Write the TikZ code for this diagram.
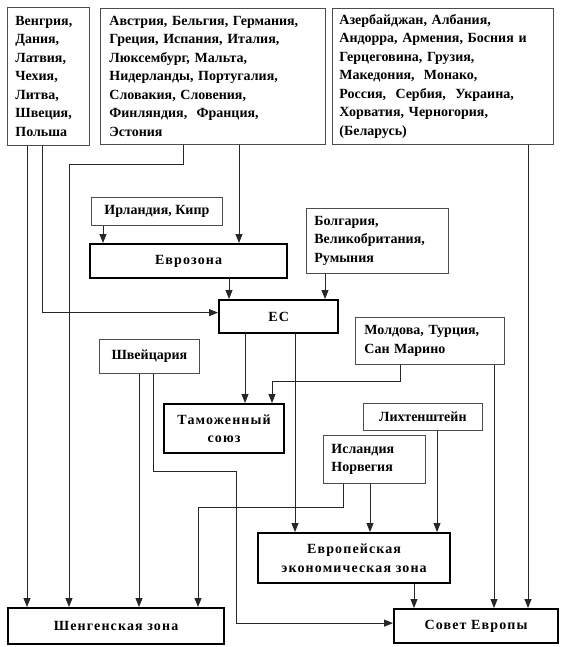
\documentclass[tikz,border=0pt]{standalone}
\usepackage{fontspec}
\setmainfont{Liberation Serif}
\newfontfamily\widefont{Liberation Serif}[LetterSpace=8]
\usetikzlibrary{arrows.meta,calc}
\newcommand\diagfont{\fontsize{14}{18.5}\selectfont\bfseries}
\newcommand\widediagfont{\widefont\fontsize{14}{18.5}\selectfont\bfseries}
\begin{document}
\begin{tikzpicture}[x=1pt,y=-1pt,
  box/.style={draw=black!70, line width=0.8pt, inner xsep=0pt, inner ysep=0pt, anchor=north west, font=\diagfont, align=center},
  thick box/.style={box, draw=black, line width=2.2pt, font=\widediagfont},
  lbox/.style={box, align=left},
  arr/.style={line width=0.8pt, draw=black!85, -{Triangle[length=9pt,width=7pt]}},
]
\useasboundingbox (0,0) rectangle (570,647);
\fill[white] (0,0) rectangle (570,647);

\node[lbox, minimum width=82, minimum height=138, text width=66] (A) at (7,7)
  {Венгрия,\\Дания,\\Латвия,\\Чехия,\\Литва,\\Швеция,\\Польша};
\node[lbox, minimum width=225, minimum height=136, text width=207] (B) at (100,8)
  {Австрия, Бельгия, Германия,\\Греция, Испания, Италия,\\Люксембург, Мальта,\\Нидерланды, Португалия,\\Словакия, Словения,\\Финляндия,\ \ Франция,\\Эстония};
\node[lbox, minimum width=221, minimum height=136, text width=207] (C) at (332,8)
  {Азербайджан, Албания,\\Андорра, Армения, Босния и\\Герцеговина, Грузия,\\Македония,\ \ Монако,\\Россия,\ \ Сербия,\ \ Украина,\\Хорватия, Черногория,\\(Беларусь)};
\node[box, minimum width=131, minimum height=28] (Irl) at (91,197) {Ирландия, Кипр};
\node[thick box, minimum width=197, minimum height=34] (Euro) at (89,243) {Еврозона};
\node[lbox, minimum width=142, minimum height=65, text width=126] (Bolg) at (306,208)
  {Болгария,\\Великобритания,\\Румыния};
\node[thick box, minimum width=119, minimum height=33] (EC) at (218,299) {ЕС};
\node[lbox, minimum width=149, minimum height=47, text width=131] (Mold) at (355,317)
  {Молдова, Турция,\\Сан Марино};
\node[box, minimum width=100, minimum height=34] (Swiss) at (99,339) {Швейцария};
\node[thick box, minimum width=120, minimum height=49] (Tam) at (163,403) {Таможенный\\союз};
\node[box, minimum width=119, minimum height=27] (Liecht) at (363,403) {Лихтенштейн};
\node[lbox, minimum width=102, minimum height=48, text width=86] (Isl) at (323,435)
  {Исландия\\Норвегия};
\node[thick box, minimum width=192, minimum height=50] (EEZ) at (257,532) {Европейская\\экономическая зона};
\node[thick box, minimum width=216, minimum height=36] (Schen) at (7,607) {Шенгенская зона};
\node[thick box, minimum width=164, minimum height=34] (Sov) at (393,608) {Совет Европы};

% connectors
\draw[arr] ([xshift=20pt]A.south west) -- ([xshift=20pt]A.south west |- Schen.north);
\draw[arr] ([xshift=35pt]A.south west) |- ([yshift=4pt]EC.west);
\draw[arr] ([xshift=83pt]B.south west) -- ++(0,20) -| ([xshift=62pt]Schen.north west);
\draw[arr] ([xshift=139pt]B.south west) -- ([xshift=139pt]B.south west |- Euro.north);
\draw[arr] ([xshift=12pt]Irl.south west) -- ([xshift=12pt]Irl.south west |- Euro.north);
\draw[arr] ([xshift=140pt]Euro.south west) -- ([xshift=140pt]Euro.south west |- EC.north);
\draw[arr] ([xshift=19pt]Bolg.south west) -- ([xshift=19pt]Bolg.south west |- EC.north);
\draw[arr] ([xshift=196pt]C.south west) -- ([xshift=196pt]C.south west |- Sov.north);
\draw[arr] ([xshift=27pt]EC.south west) -- ([xshift=27pt]EC.south west |- Tam.north);
\draw[arr] ([xshift=77pt]EC.south west) -- ([xshift=77pt]EC.south west |- EEZ.north);
\draw[arr] ([xshift=45pt]Mold.south west) -- ++(0,17) -| ([xshift=109pt]Tam.north west);
\draw[arr] ([xshift=139pt]Mold.south west) -- ([xshift=139pt]Mold.south west |- Sov.north);
\draw[arr] ([xshift=40pt]Swiss.south west) -- ([xshift=40pt]Swiss.south west |- Schen.north);
\draw[arr] ([xshift=54pt]Swiss.south west) -- ++(0,98) -- ++(83,0) |- ([yshift=3pt]Sov.west);
\draw[arr] ([xshift=74pt]Liecht.south west) -- ([xshift=74pt]Liecht.south west |- EEZ.north);
\draw[arr] ([xshift=20pt]Isl.south west) -- ++(0,24) -| ([xshift=191pt]Schen.north west);
\draw[arr] ([xshift=47pt]Isl.south west) -- ([xshift=47pt]Isl.south west |- EEZ.north);
\draw[arr] ([xshift=157pt]EEZ.south west) -- ([xshift=157pt]EEZ.south west |- Sov.north);
\end{tikzpicture}
\end{document}
